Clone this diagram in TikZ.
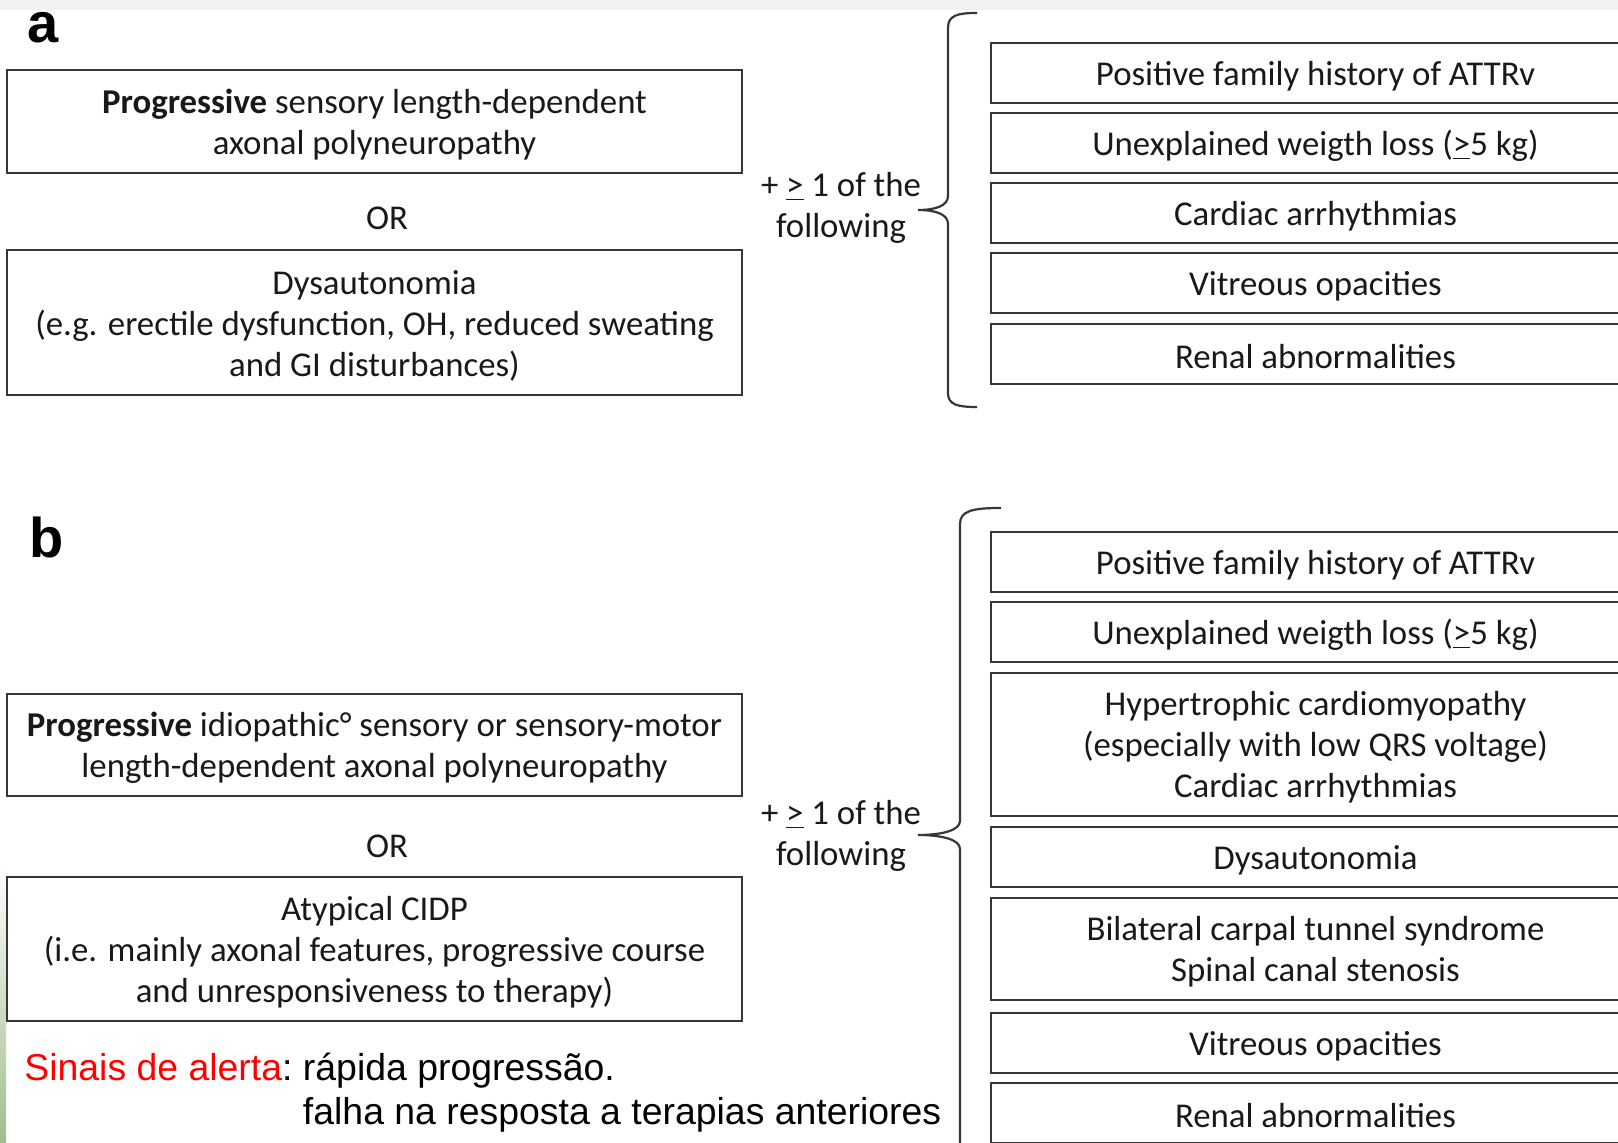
\documentclass[tikz,border=0pt]{standalone}
\usepackage{fontspec}
\setmainfont{Carlito}
\newfontfamily\arialf{Liberation Sans}
\definecolor{topband}{RGB}{240,242,237}
\definecolor{leafgreen}{RGB}{160,190,140}
\definecolor{boxline}{RGB}{55,55,55}
\definecolor{txt}{RGB}{25,25,25}
\begin{document}
\begin{tikzpicture}[x=0.5pt,y=-0.5pt,
  box/.style={draw=boxline, line width=1.2pt, rectangle, inner sep=0pt},
  lbox/.style={box, minimum width=367.5pt},
  rbox/.style={box, minimum width=324.5pt},
  plain/.style={inner sep=0pt, align=center, font=\fontsize{17.4pt}{20.5pt}\selectfont, text=txt},
  btxt/.style={plain, yshift=-1.5pt},
  lbl/.style={inner sep=0pt, anchor=base west, font=\arialf\bfseries\fontsize{28pt}{32pt}\selectfont},
  bracel/.style={draw=boxline, line width=1.1pt}
]
\useasboundingbox (0,0) rectangle (1618,1143);
\clip (0,0) rectangle (1618,1143);
\fill[white] (0,0) rectangle (1618,1143);
\fill[topband] (0,0) rectangle (1618,10);
\shade[top color=white, bottom color=leafgreen] (0,860) rectangle (6,1143);

% labels
\node[lbl] (la) at (27,43) {a};
\node[lbl] (lb) at (29,558) {b};

% ---- section a ----
\node[lbox, minimum height=51.5pt] (a1) at (374.5,121.5) {};
\node[btxt] (a1t) at (a1) {\textbf{Progressive} sensory length-dependent\\axonal polyneuropathy};
\node[plain] (orA) at (387,218) {OR};
\node[lbox, minimum height=72.5pt] (a2) at (374.5,322.5) {};
\node[btxt] (a2t) at (a2) {Dysautonomia\\(e.g. erectile dysfunction, OH, reduced sweating\\and GI disturbances)};
\node[plain] (fa) at (841,208) {+ \underline{>} 1 of the\\following};

\draw[bracel] (977,13) .. controls (958,13) and (948,15) .. (948,28) -- (948,196)
  .. controls (948,206) and (935,210) .. (918,210)
  .. controls (935,210) and (948,214) .. (948,224) -- (948,393)
  .. controls (948,405) and (958,407) .. (977,407);

\node[rbox, minimum height=30pt] (ra1) at (1315.5,73) {};
\node[btxt] (ra1t) at (ra1) {Positive family history of ATTRv};
\node[rbox, minimum height=30pt] (ra2) at (1315.5,143) {};
\node[btxt] (ra2t) at (ra2) {Unexplained weigth loss (\underline{>}5 kg)};
\node[rbox, minimum height=30pt] (ra3) at (1315.5,213) {};
\node[btxt] (ra3t) at (ra3) {Cardiac arrhythmias};
\node[rbox, minimum height=30pt] (ra4) at (1315.5,283) {};
\node[btxt] (ra4t) at (ra4) {Vitreous opacities};
\node[rbox, minimum height=30pt] (ra5) at (1315.5,354) {};
\node[btxt] (ra5t) at (ra5) {Renal abnormalities};

% ---- section b ----
\node[lbox, minimum height=51pt] (b1) at (374.5,745) {};
\node[btxt] (b1t) at (b1) {\textbf{Progressive} idiopathic° sensory or sensory-motor\\length-dependent axonal polyneuropathy};
\node[plain] (orB) at (387,846) {OR};
\node[lbox, minimum height=72pt] (b2) at (374.5,949) {};
\node[btxt] (b2t) at (b2) {Atypical CIDP\\(i.e. mainly axonal features, progressive course\\and unresponsiveness to therapy)};
\node[plain] (fb) at (841,836) {+ \underline{>} 1 of the\\following};

\draw[bracel] (1001,508) .. controls (972,508) and (960,511) .. (960,524) -- (960,821)
  .. controls (960,831) and (940,835) .. (918,835)
  .. controls (940,835) and (960,839) .. (960,849) -- (960,1160);

\node[rbox, minimum height=30pt] (rb1) at (1315.5,562) {};
\node[btxt] (rb1t) at (rb1) {Positive family history of ATTRv};
\node[rbox, minimum height=30pt] (rb2) at (1315.5,632) {};
\node[btxt] (rb2t) at (rb2) {Unexplained weigth loss (\underline{>}5 kg)};
\node[rbox, minimum height=71.5pt] (rb3) at (1315.5,744.5) {};
\node[btxt] (rb3t) at (rb3) {Hypertrophic cardiomyopathy\\(especially with low QRS voltage)\\Cardiac arrhythmias};
\node[rbox, minimum height=30pt] (rb4) at (1315.5,857) {};
\node[btxt] (rb4t) at (rb4) {Dysautonomia};
\node[rbox, minimum height=51pt] (rb5) at (1315.5,949) {};
\node[btxt] (rb5t) at (rb5) {Bilateral carpal tunnel syndrome\\Spinal canal stenosis};
\node[rbox, minimum height=30pt] (rb6) at (1315.5,1043) {};
\node[btxt] (rb6t) at (rb6) {Vitreous opacities};
\node[rbox, minimum height=30pt] (rb7) at (1315.5,1113) {};
\node[btxt] (rb7t) at (rb7) {Renal abnormalities};

% warning text
\node[anchor=base west, inner sep=0pt, font=\arialf\fontsize{18.7pt}{22pt}\selectfont] (alert) at (24,1080)
  {\begin{tabular}[t]{@{}l@{}l@{}}\textcolor{red}{Sinais de alerta}:~ & rápida progressão.\\
   & falha na resposta a terapias anteriores\end{tabular}};
\end{tikzpicture}
\end{document}
